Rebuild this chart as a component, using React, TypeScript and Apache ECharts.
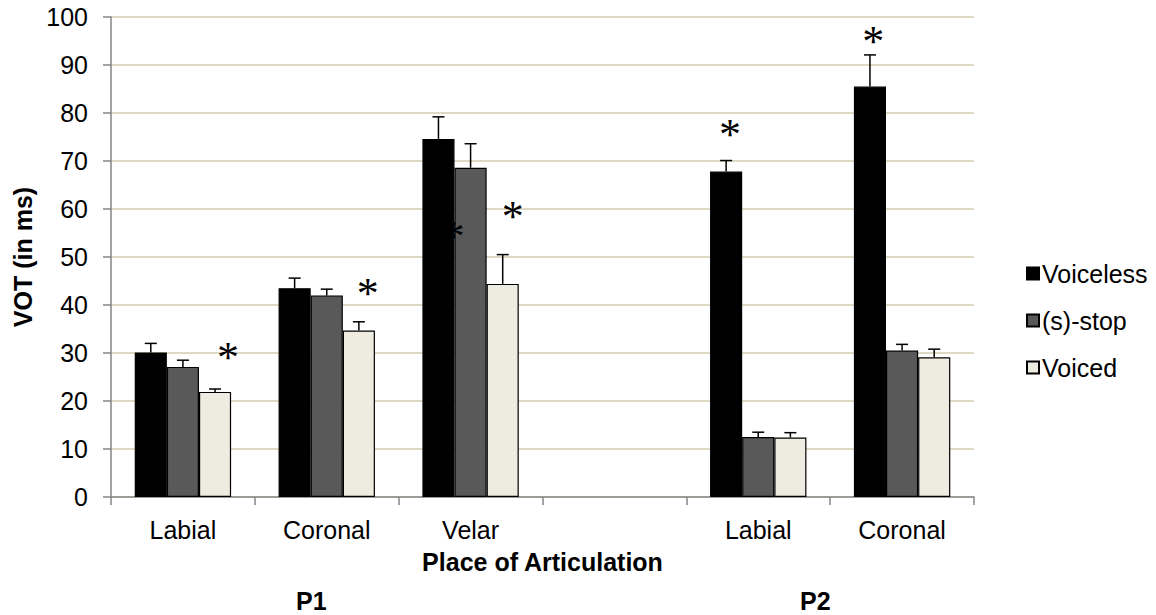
import React, { useEffect, useRef } from "react";
import * as echarts from "echarts";

const categories = ["Labial", "Coronal", "Velar", "", "Labial", "Coronal"];
const seriesNames = ["Voiceless", "(s)-stop", "Voiced"];
const voiceless = [30.1, 43.5, 74.6, null, 67.8, 85.5];
const sStop = [27.1, 42.0, 68.6, null, 12.5, 30.5];
const voiced = [21.9, 34.7, 44.4, null, 12.4, 29.1];
const voicelessErr = [32.0, 45.6, 79.2, null, 70.1, 92.1];
const sStopErr = [28.5, 43.3, 73.6, null, 13.5, 31.8];
const voicedErr = [22.5, 36.5, 50.5, null, 13.4, 30.8];
const yMin = 0;
const yMax = 100;
const yStep = 10;
// significance markers: [categoryIndex, seriesIndex, value]
const asterisks = [
  [0, 2, 29.0],
  [1, 2, 42.3],
  [2, 2, 58.5],
  [2, 0, 54.3],
  [4, 0, 75.6],
  [5, 0, 94.8],
];
// horizontal shift of each marker, in bar widths
const asteriskShift = [0.4, 0.28, 0.31, 0.47, 0.12, 0.1];
const groupLabels = ["P1", "P2"];

const colors = ["#000000", "#595959", "#EEECE1"];
const FONT = "Liberation Sans";
const GAP = 0.33;

export default function App() {
  const ref = useRef<HTMLDivElement>(null);
  useEffect(() => {
    if (!ref.current) return;
    const chart = echarts.init(ref.current, undefined, { renderer: "svg" });
    const values = [voiceless, sStop, voiced];
    const errs = [voicelessErr, sStopErr, voicedErr];
    const errData: any[] = [];
    values.forEach((arr, si) => {
      arr.forEach((v, ci) => {
        if (v != null && errs[si][ci] != null) errData.push([ci, errs[si][ci], si, v]);
      });
    });
    const astData = asterisks.map((a, i) => [a[0], a[2], a[1], asteriskShift[i]]);
    const barZ = [4, 2, 2];
    const option: any = {
      animation: false,
      textStyle: { fontFamily: FONT },
      grid: { left: 111, right: 182, top: 17, bottom: 118, containLabel: false },
      legend: {
        orient: "vertical",
        left: 1021,
        top: 256,
        itemWidth: 12,
        itemHeight: 12,
        itemGap: 22,
        icon: "rect",
        textStyle: { fontFamily: FONT, fontSize: 25, color: "#000", padding: [0, 0, 0, -2] },
        data: seriesNames,
      },
      xAxis: {
        type: "category",
        data: categories,
        axisLine: { lineStyle: { color: "#868686", width: 1.5 } },
        axisTick: { show: true, length: 8, lineStyle: { color: "#868686", width: 1.5 } },
        axisLabel: { fontSize: 25, color: "#000", margin: 20, fontFamily: FONT },
        name: "Place of Articulation",
        nameLocation: "middle",
        nameGap: 52,
        nameTextStyle: { fontSize: 25, fontWeight: "bold", color: "#000", fontFamily: FONT },
      },
      yAxis: {
        type: "value",
        min: yMin,
        max: yMax,
        interval: yStep,
        axisLine: { show: true, lineStyle: { color: "#868686", width: 1.5 } },
        axisTick: { show: true, length: 8, lineStyle: { color: "#868686", width: 1.5 } },
        axisLabel: { fontSize: 25, color: "#000", margin: 23, fontFamily: FONT },
        splitLine: { lineStyle: { color: "#DDD9C3", width: 2 } },
        name: "VOT (in ms)",
        nameLocation: "middle",
        nameGap: 76,
        nameTextStyle: { fontSize: 25, fontWeight: "bold", color: "#000", fontFamily: FONT },
      },
      series: [
        ...values.map((arr, si) => ({
          name: seriesNames[si],
          type: "bar",
          data: arr,
          barGap: "0%",
          barCategoryGap: GAP * 100 + "%",
          z: barZ[si],
          itemStyle: { color: colors[si], borderColor: "#000", borderWidth: 1.2 },
        })),
        {
          type: "custom",
          z: 3,
          silent: true,
          data: astData,
          encode: { x: 0, y: 1 },
          renderItem: (params: any, api: any) => {
            const cat = api.value(0);
            const y = api.value(1);
            const si = api.value(2);
            const shift = api.value(3);
            const band = api.size([1, 0])[0];
            const barW = (band * (1 - GAP)) / 3;
            const p = api.coord([cat, y]);
            return {
              type: "text",
              x: p[0] + (si - 1) * barW + shift * barW,
              y: p[1],
              style: {
                text: "*",
                fontSize: 44,
                fontFamily: "Liberation Serif",
                fill: "#000",
                align: "center",
                verticalAlign: "middle",
              },
            };
          },
        },
        {
          type: "custom",
          z: 5,
          silent: true,
          data: errData,
          encode: { x: 0, y: 1 },
          renderItem: (params: any, api: any) => {
            const cat = api.value(0);
            const top = api.value(1);
            const si = api.value(2);
            const base = api.value(3);
            const band = api.size([1, 0])[0];
            const barW = (band * (1 - GAP)) / 3;
            const cx = api.coord([cat, 0])[0] + (si - 1) * barW;
            const yTop = api.coord([cat, top])[1];
            const yBase = api.coord([cat, base])[1];
            const st = { stroke: "#000", lineWidth: 1.5 };
            return {
              type: "group",
              children: [
                { type: "line", shape: { x1: cx, y1: yBase, x2: cx, y2: yTop }, style: st },
                { type: "line", shape: { x1: cx - 6, y1: yTop, x2: cx + 6, y2: yTop }, style: st },
              ],
            };
          },
        },
      ],
      graphic: [
        {
          type: "text",
          left: 296,
          top: 588,
          style: { text: groupLabels[0], fontSize: 25, fontWeight: "bold", fill: "#000", fontFamily: FONT },
        },
        {
          type: "text",
          left: 800,
          top: 588,
          style: { text: groupLabels[1], fontSize: 25, fontWeight: "bold", fill: "#000", fontFamily: FONT },
        },
      ],
    };
    chart.setOption(option);
    return () => chart.dispose();
  }, []);
  return (
    <div
      ref={ref}
      style={{ position: "absolute", left: 0, top: 0, width: 1156, height: 615, background: "#fff" }}
    />
  );
}
